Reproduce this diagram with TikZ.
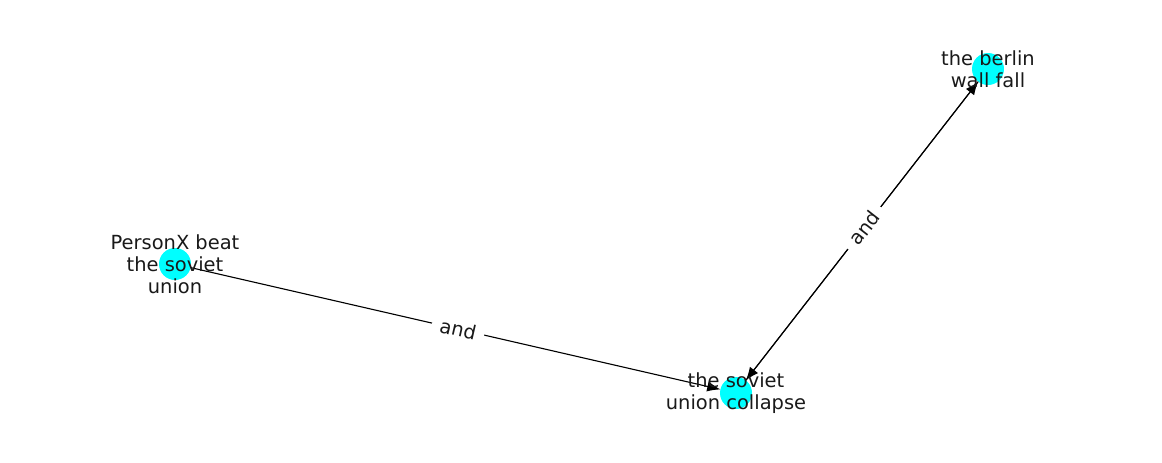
\documentclass[tikz,border=0pt]{standalone}
\usepackage{fontspec}
\setmainfont{DejaVu Sans}
\usetikzlibrary{positioning,calc,arrows.meta}
\definecolor{nodecyan}{RGB}{0,255,255}

\begin{document}
\begin{tikzpicture}[
        x=0.72pt, y=-0.72pt,
        dot/.style={circle, fill=nodecyan, draw=none, minimum size=23.04pt, inner sep=0pt, outer sep=0pt},
        name-label/.style={align=center, font=\fontsize{14}{15.8}\selectfont, text=black!90, inner sep=0pt},
        arrow/.style={-{Latex[length=9.5pt, width=7.5pt]}, line width=0.8pt},
        edge-label/.style={fill=white, inner xsep=6pt, inner ysep=3pt, font=\fontsize{14}{16}\selectfont, text=black!90}
    ]

    \useasboundingbox (0,0) rectangle (1162,462);

    % Define nodes
    \node[dot] (beat) at (175,264) {};
    \node[dot] (collapse) at (736,393) {};
    \node[dot] (wall) at (988,69) {};

    % Define connections
    \draw[arrow] (beat) -- (collapse)
        node[edge-label, pos=0.505, sloped] {and};
    \draw[arrow] (wall) -- (collapse);
    \draw[arrow] (collapse) -- (wall)
        node[edge-label, pos=0.51, sloped] {and};

    % Node texts
    \node[name-label] at (beat) {PersonX beat\\the soviet\\union};
    \node[name-label] at (collapse) {the soviet\\union collapse};
    \node[name-label] at (wall) {the berlin\\wall fall};

    \end{tikzpicture}
\end{document}
